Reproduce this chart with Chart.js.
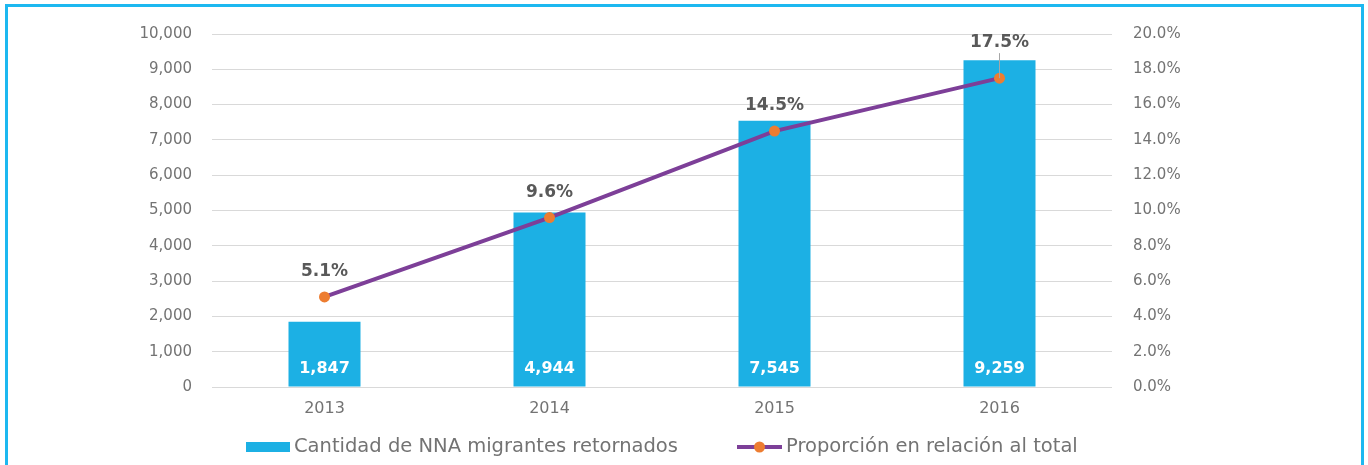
<!DOCTYPE html>
<html>
<head>
<meta charset="utf-8">
<script src="https://cdn.jsdelivr.net/npm/chart.js@4.4.1/dist/chart.umd.min.js"></script>
<style>
  html, body { margin: 0; padding: 0; background: #fff; }
  #wrap { position: relative; width: 1368px; height: 465px; overflow: hidden; }
  #frame { position: absolute; left: 5px; top: 4px; width: 1359px; height: 480px; border: 3px solid #1DB8F0; box-sizing: border-box; pointer-events: none; }
  #wrap canvas { position: absolute; left: 0; top: 0; }
</style>
</head>
<body>
<div id="wrap">
  <canvas id="nnaChart" width="1368" height="465"></canvas>
  <div id="frame"></div>
</div>
<script>
const years = ['2013', '2014', '2015', '2016'];
const retornados = [1847, 4944, 7545, 9259];
const proporcion = [5.1, 9.6, 14.5, 17.5];
const leftTicks = [0, 1000, 2000, 3000, 4000, 5000, 6000, 7000, 8000, 9000, 10000];
const rightTicks = [0, 2, 4, 6, 8, 10, 12, 14, 16, 18, 20];

const FONT = "'DejaVu Sans', sans-serif";
const BAR_COLOR = '#1CB0E4';
const LINE_COLOR = '#7D3F98';
const POINT_COLOR = '#ED7D31';
const LABEL_GRAY = '#595959';
const TEXT_GRAY = '#737373';

// etiquetas de datos + leyenda dibujadas a mano
const labelsPlugin = {
    id: 'nnaLabels',
    afterDatasetsDraw(chart) {
        const ctx = chart.ctx;
        const barMeta = chart.getDatasetMeta(0);
        const lineMeta = chart.getDatasetMeta(1);
        ctx.save();
        ctx.textAlign = 'center';
        ctx.textBaseline = 'middle';

        // valores dentro de las barras
        ctx.font = "bold 16px " + FONT;
        ctx.fillStyle = '#ffffff';
        barMeta.data.forEach((bar, i) => {
            ctx.fillText(retornados[i].toLocaleString('en-US'), bar.x, bar.base - 18);
        });

        // porcentajes sobre la linea
        ctx.font = "bold 17px " + FONT;
        lineMeta.data.forEach((pt, i) => {
            const lifted = i === proporcion.length - 1;
            const off = lifted ? 36 : 25;
            if (lifted) {
                ctx.strokeStyle = '#A6A6A6';
                ctx.lineWidth = 1;
                ctx.beginPath();
                ctx.moveTo(pt.x, pt.y - off + 11);
                ctx.lineTo(pt.x, pt.y);
                ctx.stroke();
            }
            ctx.fillStyle = LABEL_GRAY;
            ctx.fillText(proporcion[i].toFixed(1) + '%', pt.x, pt.y - off);
        });
        ctx.restore();
    },
    afterDraw(chart) {
        const ctx = chart.ctx;
        const y = 447;
        ctx.save();
        ctx.font = "19.5px " + FONT;
        ctx.textBaseline = 'middle';
        ctx.textAlign = 'left';

        // serie de barras
        ctx.fillStyle = BAR_COLOR;
        ctx.fillRect(246, y - 5, 44, 10);
        ctx.fillStyle = TEXT_GRAY;
        ctx.fillText(chart.data.datasets[0].label, 294, y);

        // serie de linea
        ctx.strokeStyle = LINE_COLOR;
        ctx.lineWidth = 4;
        ctx.beginPath();
        ctx.moveTo(737, y);
        ctx.lineTo(782, y);
        ctx.stroke();
        ctx.fillStyle = POINT_COLOR;
        ctx.beginPath();
        ctx.arc(759.5, y, 5.5, 0, Math.PI * 2);
        ctx.fill();
        ctx.fillStyle = TEXT_GRAY;
        ctx.fillText(chart.data.datasets[1].label, 786, y);
        ctx.restore();
    }
};

const ctx = document.getElementById('nnaChart').getContext('2d');
const nnaChart = new Chart(ctx, {
    data: {
        labels: years,
        datasets: [{
            type: 'bar',
            label: 'Cantidad de NNA migrantes retornados',
            data: retornados,
            backgroundColor: BAR_COLOR,
            categoryPercentage: 1,
            barPercentage: 0.32,
            yAxisID: 'y',
            order: 1
        }, {
            type: 'line',
            label: 'Proporción en relación al total',
            data: proporcion,
            borderColor: LINE_COLOR,
            borderWidth: 4,
            pointRadius: 5.5,
            pointBackgroundColor: POINT_COLOR,
            pointBorderWidth: 0,
            tension: 0,
            yAxisID: 'y1',
            order: 0
        }]
    },
    options: {
        responsive: false,
        animation: false,
        layout: { padding: { top: 34, bottom: 0, left: 0, right: 0 } },
        scales: {
            x: {
                grid: { display: false, drawTicks: false },
                border: { display: false },
                ticks: {
                    color: TEXT_GRAY,
                    padding: 12,
                    font: { family: FONT, size: 16 }
                },
                afterFit: function(scale) { scale.height = 78; }
            },
            y: {
                position: 'left',
                min: 0,
                max: 10000,
                afterBuildTicks: function(scale) { scale.ticks = leftTicks.map(v => ({ value: v })); },
                ticks: {
                    color: TEXT_GRAY,
                    padding: 20,
                    font: { family: FONT, size: 15 },
                    callback: function(value) { return value.toLocaleString('en-US'); }
                },
                grid: { color: '#D9D9D9', lineWidth: 1, drawTicks: false },
                border: { display: false },
                afterFit: function(scale) { scale.width = 212; }
            },
            y1: {
                position: 'right',
                min: 0,
                max: 20,
                afterBuildTicks: function(scale) { scale.ticks = rightTicks.map(v => ({ value: v })); },
                ticks: {
                    color: TEXT_GRAY,
                    padding: 21,
                    font: { family: FONT, size: 15 },
                    callback: function(value) { return value.toFixed(1) + '%'; }
                },
                grid: { display: false, drawTicks: false },
                border: { display: false },
                afterFit: function(scale) { scale.width = 256; }
            }
        },
        plugins: {
            legend: { display: false },
            tooltip: { enabled: false }
        }
    },
    plugins: [labelsPlugin]
});
</script>
</body>
</html>
